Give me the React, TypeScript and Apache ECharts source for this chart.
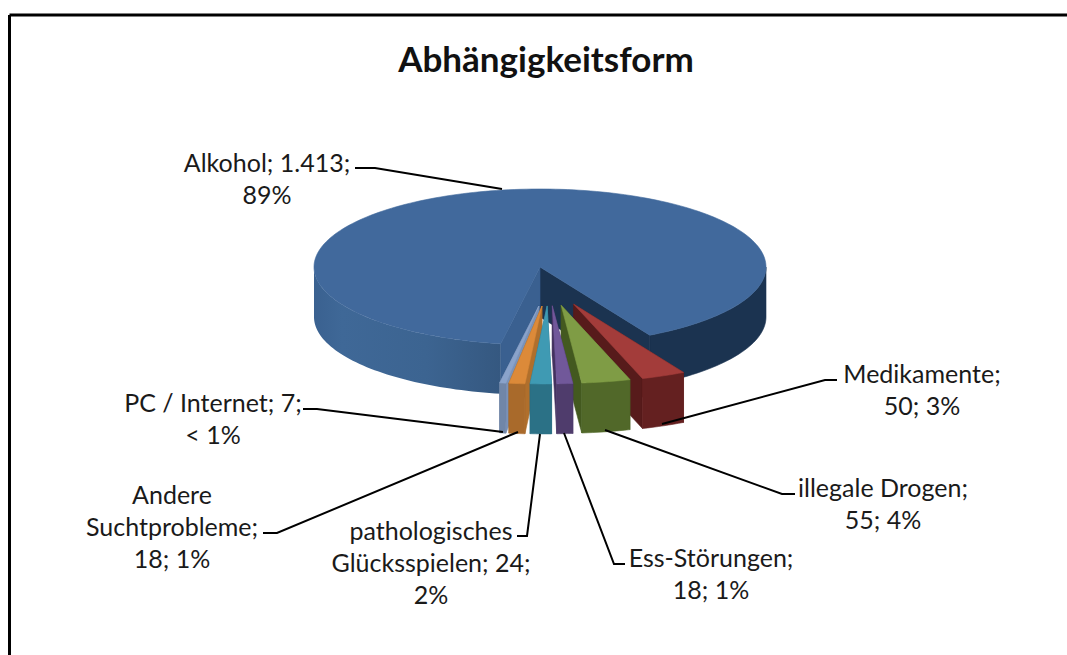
import React, { useEffect, useRef } from "react";
import * as echarts from "echarts";

const TITLE = "Abhängigkeitsform";
const categories = ["Alkohol", "Medikamente", "illegale Drogen", "Ess-Störungen", "pathologisches Glücksspielen", "Andere Suchtprobleme", "PC / Internet"];
const values = [1413, 50, 55, 18, 24, 18, 7];
const valueTexts = ["1.413", "50", "55", "18", "24", "18", "7"];
const percentTexts = ["89%", "3%", "4%", "1%", "2%", "1%", "< 1%"];
const explodeFlags = [0, 1, 1, 1, 1, 1, 1];

const topColors = ["#41699c", "#a33c3a", "#7f9c45", "#71589a", "#3f9ab3", "#dc8a39", "#8aa3cb"];
const sideColors = ["#3d6593", "#642020", "#516829", "#4f3c6c", "#2b7186", "#a96a2b", "#7086a8"];
const startWallColors = ["#3a6090", "#581c1c", "#445a20", "#43315f", "#27667a", "#b06f2c", "#7a92b8"];
const endWallColors = ["#1b3350", "#571b1b", "#43591f", "#43315f", "#27667a", "#96601f", "#6a80a0"];

const labelLines = [
  ["Alkohol; 1.413;", "89%"],
  ["Medikamente;", "50; 3%"],
  ["illegale Drogen;", "55; 4%"],
  ["Ess-Störungen;", "18; 1%"],
  ["pathologisches", "Glücksspielen; 24;", "2%"],
  ["Andere", "Suchtprobleme;", "18; 1%"],
  ["PC / Internet; 7;", "< 1%"],
];
const labelAnchors = [[267, 178], [922, 389], [883, 503], [711, 573], [431, 562], [172, 526], [213, 418]];
const leaderPaths = [
  [[355, 168], [375, 168], [502, 189]],
  [[837, 380], [825, 380], [662, 424]],
  [[795, 494], [782, 494], [605, 430]],
  [[625, 564], [614, 564], [564, 433]],
  [[517, 536], [527, 536], [540, 434]],
  [[263, 533], [277, 533], [518, 432]],
  [[303, 409], [317, 409], [503, 432]],
];

const FONT = "Lato";
const CX = 540, CY = 267, RX = 226, RY = 78, DEPTH = 50, FIRST_ANGLE = 190, EXPLODE = 0.5;
const rad = (d: number) => (d * Math.PI) / 180;
const total = values.reduce((a, b) => a + b, 0);

function sliceRange(i: number): [number, number] {
  let acc = 0;
  for (let k = 0; k < i; k++) acc += values[k];
  const a = FIRST_ANGLE + (acc / total) * 360;
  return [a, a + (values[i] / total) * 360];
}

function renderSlice(params: any, api: any) {
  const i = params.dataIndex;
  const [a, b] = sliceRange(i);
  const mid = ((a + b) / 2) % 360;
  const dir = 175.5 + 0.55 * (mid - 180);
  const e = explodeFlags[i] * EXPLODE;
  const ax = CX + RX * e * Math.sin(rad(dir));
  const ay = CY - RY * e * Math.cos(rad(dir));
  const pt = (t: number, dz = 0) => [ax + RX * Math.sin(rad(t)), ay - RY * Math.cos(rad(t)) + dz];
  const arc = (s: number, f: number, dz = 0) => {
    const n = Math.max(2, Math.ceil((f - s) / 1.5));
    const out: number[][] = [];
    for (let k = 0; k <= n; k++) out.push(pt(s + ((f - s) * k) / n, dz));
    return out;
  };
  const poly = (points: number[][], fill: any) => ({
    type: "polygon",
    shape: { points },
    style: { fill, stroke: typeof fill === "string" ? fill : "none", lineWidth: 0.6 },
  });
  const children: any[] = [];

  // cut faces: the one facing away from the viewer goes first
  const wall = (t: number, color: string) => {
    const p = pt(t);
    return poly([[ax, ay], p, [p[0], p[1] + DEPTH], [ax, ay + DEPTH]], color);
  };
  const A = pt(a), B = pt(b);
  const nx = -(A[1] - ay), ny = A[0] - ax;
  const side = nx * (B[0] - ax) + ny * (B[1] - ay);
  const startFacesDown = (side < 0 ? ny : -ny) > 0;
  const walls = [wall(a, startWallColors[i]), wall(b, endWallColors[i])];

  // outer rim, only where it faces the viewer
  const rims: any[] = [];
  for (let k = -1; k <= 1; k++) {
    const lo = Math.max(a, 90 + 360 * k), hi = Math.min(b, 270 + 360 * k);
    if (hi <= lo) continue;
    const top = arc(lo, hi);
    const bottom = arc(lo, hi, DEPTH).reverse();
    const m = Math.sin(rad((lo + hi) / 2));
    let fill: any = sideColors[i];
    if (i === 0 && m > 0.3) {
      fill = endWallColors[0];
    } else if (i === 0) {
      fill = new echarts.graphic.LinearGradient(0, 0, 1, 0, [
        { offset: 0, color: "#3a6190" },
        { offset: 0.15, color: "#3f6897" },
        { offset: 0.6, color: "#3c6491" },
        { offset: 1, color: "#355880" },
      ]);
    }
    rims.push(poly([...top, ...bottom], fill));
  }
  if (i === 0) {
    children.push(...rims, walls[1], walls[0]);
  } else {
    children.push(startFacesDown ? walls[1] : walls[0], startFacesDown ? walls[0] : walls[1], ...rims);
  }
  children.push(poly([[ax, ay], ...arc(a, b)], topColors[i]));
  // painter's order: slices nearest the viewer's axis are drawn last
  const rank = i === 0 ? 0 : 40 - Math.abs(mid - 178);
  children.forEach((c, k) => { c.z2 = Math.round(rank * 100) + k; });
  return { type: "group", children };
}

const leaderGraphics = leaderPaths.map((points) => ({
  type: "polyline",
  shape: { points },
  style: { stroke: "#000", lineWidth: 2, fill: "none" },
  z: 10,
}));

const labelGraphics = labelLines.map((lines, i) => ({
  type: "text",
  x: labelAnchors[i][0],
  y: labelAnchors[i][1],
  z: 11,
  style: {
    text: lines.join("\n"),
    font: `25px ${FONT}`,
    fontFamily: FONT,
    fontSize: 25,
    lineHeight: 32,
    fill: "#1a1a1a",
    textAlign: "center",
    textVerticalAlign: "middle",
  },
}));

export default function App() {
  const ref = useRef<HTMLDivElement>(null);
  useEffect(() => {
    document.body.style.margin = "0";
    const chart = echarts.init(ref.current!, null, { renderer: "svg" });
    chart.setOption({
      animation: false,
      backgroundColor: "#fff",
      title: {
        text: TITLE,
        left: 541,
        top: 35,
        textAlign: "center",
        textStyle: { fontFamily: FONT, fontWeight: "bold", fontSize: 35, color: "#111" },
      },
      series: [
        {
          type: "custom",
          coordinateSystem: "none",
          renderItem: renderSlice,
          data: values.map((v, i) => ({ name: categories[i], value: [v, valueTexts[i], percentTexts[i]] })),
          silent: true,
        },
      ],
      graphic: {
        elements: [
          { type: "line", shape: { x1: 9.5, y1: 15, x2: 1067, y2: 15 }, style: { stroke: "#000", lineWidth: 3 } },
          { type: "line", shape: { x1: 9.5, y1: 15, x2: 9.5, y2: 655 }, style: { stroke: "#000", lineWidth: 3 } },
          ...leaderGraphics,
          ...labelGraphics,
        ],
      },
    });
    return () => chart.dispose();
  }, []);
  return <div ref={ref} style={{ width: 1067, height: 655 }} />;
}
